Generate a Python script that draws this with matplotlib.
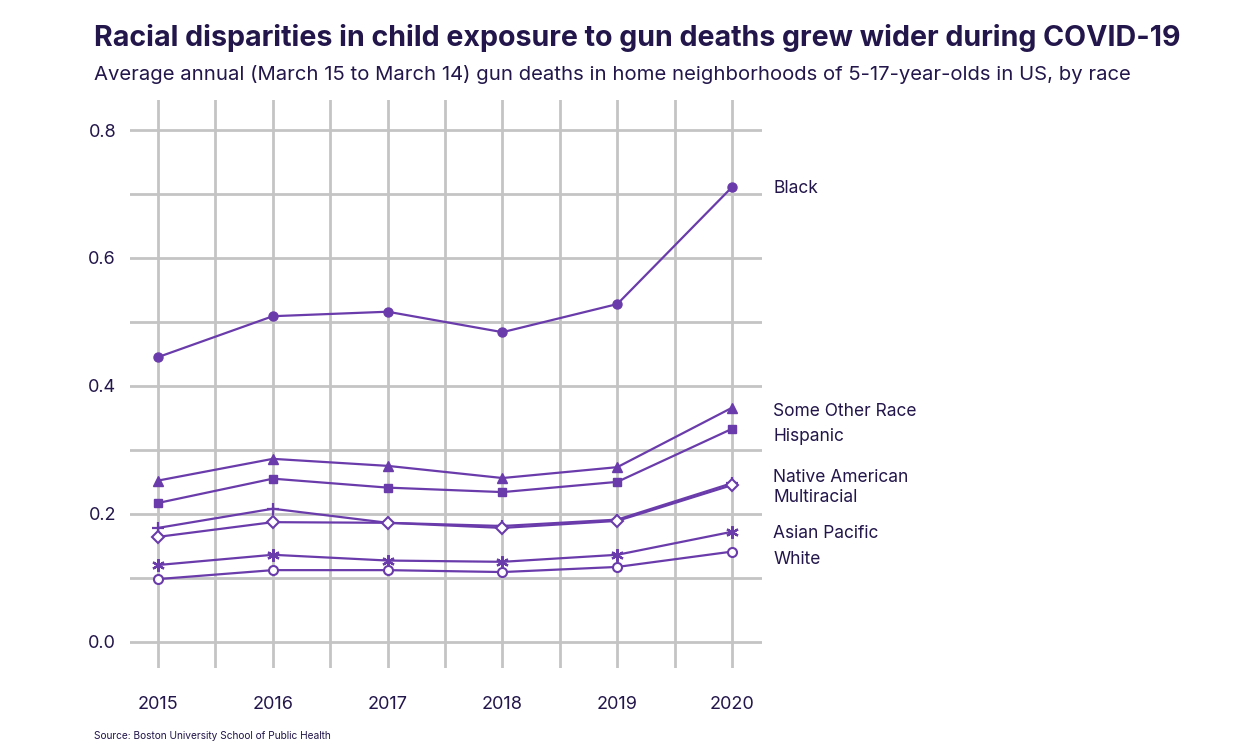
import matplotlib
matplotlib.use("Agg")
import matplotlib.pyplot as plt
import numpy as np

plt.rcParams['font.family'] = ['Inter', 'DejaVu Sans']

years = [2015, 2016, 2017, 2018, 2019, 2020]

black = [0.445, 0.509, 0.516, 0.484, 0.528, 0.711]
some_other = [0.252, 0.286, 0.275, 0.256, 0.273, 0.366]
hispanic = [0.217, 0.255, 0.241, 0.234, 0.250, 0.333]
native_american = [0.178, 0.208, 0.186, 0.181, 0.191, 0.248]
multiracial = [0.164, 0.187, 0.186, 0.178, 0.189, 0.245]
asian_pacific = [0.120, 0.136, 0.127, 0.125, 0.136, 0.172]
white = [0.098, 0.112, 0.112, 0.109, 0.117, 0.141]

label_names = ["Black", "Some Other Race", "Hispanic", "Native American",
               "Multiracial", "Asian Pacific", "White"]
# label positions (data y) next to the last point
label_y = [0.709, 0.360, 0.321, 0.257, 0.225, 0.170, 0.128]

line_col = '#6a3cab'
text_col = '#22164a'
grid_col = '#c4c4c4'

fig = plt.figure(figsize=(12.51, 7.55), dpi=100)
ax = fig.add_axes([130 / 1251, 87 / 755, 632 / 1251, 568 / 755])

series = [
    (black, dict(marker='o', mfc=line_col, ms=6.5)),
    (some_other, dict(marker='^', mfc=line_col, ms=7)),
    (hispanic, dict(marker='s', mfc=line_col, ms=5.5)),
    (native_american, dict(marker='+', ms=9, mew=1.6)),
    (multiracial, dict(marker='D', mfc='white', ms=6, mew=1.5)),
    (asian_pacific, dict(marker=(6, 2, 0), ms=9, mew=1.6)),
    (white, dict(marker='o', mfc='white', ms=6.5, mew=1.5)),
]
for vals, kw in series:
    ax.plot(years, vals, color=line_col, mec=line_col, lw=1.6, zorder=3, **kw)

ax.set_xlim(2014.756, 2020.26)
ax.set_ylim(-0.041, 0.847)

ax.set_xticks(years)
ax.set_yticks([0.0, 0.2, 0.4, 0.6, 0.8])
ax.set_yticklabels(['0.0', '0.2', '0.4', '0.6', '0.8'])

# horizontal grid lines, vertical grid lines
for yv in np.arange(0, 0.81, 0.1):
    ax.axhline(yv, color=grid_col, lw=2, zorder=1)
for xv in np.arange(2015, 2020.01, 0.5):
    ax.axvline(xv, color=grid_col, lw=2, zorder=1)

ax.tick_params(which='both', length=0)
ax.tick_params(axis='y', pad=10, labelsize=13, labelcolor=text_col)
ax.tick_params(axis='x', pad=20, labelsize=13, labelcolor=text_col)
for s in ax.spines.values():
    s.set_visible(False)

for name, yv in zip(label_names, label_y):
    ax.text(2020.36, yv, name, color=text_col, fontsize=12.5, va='center',
            ha='left', clip_on=False)

fig.text(94 / 1251, 1 - 38 / 755,
         "Racial disparities in child exposure to gun deaths grew wider during COVID-19",
         fontsize=20.6, fontweight='bold', color=text_col, va='center', ha='left')
fig.text(94 / 1251, 1 - 74 / 755,
         "Average annual (March 15 to March 14) gun deaths in home neighborhoods of 5-17-year-olds in US, by race",
         fontsize=14.6, color=text_col, va='center', ha='left')
fig.text(94 / 1251, 1 - 736 / 755, "Source: Boston University School of Public Health",
         fontsize=7.3, color=text_col, va='center', ha='left')

fig.savefig('out.png', dpi=100, facecolor='white')
